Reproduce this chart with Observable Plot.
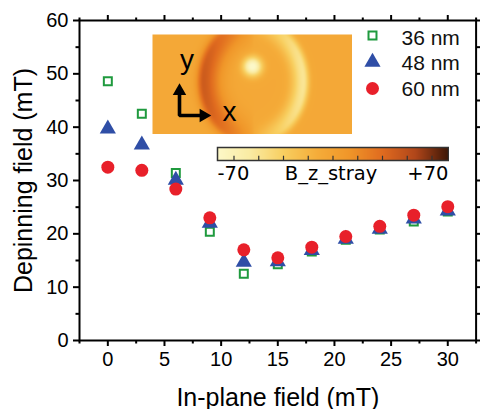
<!DOCTYPE html>
<html><head><meta charset="utf-8">
<script src="https://cdn.jsdelivr.net/npm/d3@7"></script>
<script src="https://cdn.jsdelivr.net/npm/@observablehq/plot@0.6"></script>
<style>
body{margin:0;background:#fff;}
#wrap{position:relative;width:480px;height:409px;overflow:hidden;}
</style></head><body><div id="wrap"></div>
<script>
// ---- data ----
const inPlaneField = [0, 3, 6, 9, 12, 15, 18, 21, 24, 27, 30];
const depin36 = [48.6, 42.5, 31.4, 20.4, 12.5, 14.3, 16.7, 18.9, 20.8, 22.3, 24.2];
const depin48 = [39.7, 36.7, 30.1, 22.0, 14.7, 14.8, 16.9, 19.0, 20.9, 22.8, 24.3];
const depin60 = [32.5, 31.9, 28.4, 23.0, 17.0, 15.5, 17.5, 19.5, 21.4, 23.5, 25.1];
const seriesNames = ["36 nm", "48 nm", "60 nm"];
const xTicks = [0, 5, 10, 15, 20, 25, 30];
const xMinor = [-2.5, 2.5, 7.5, 12.5, 17.5, 22.5, 27.5, 32.5];
const yTicks = [0, 10, 20, 30, 40, 50, 60];
const yMinor = [5, 15, 25, 35, 45, 55];
const colorbarDomain = [-70, 70];
const colorbarTicks = [-60, -45, -30, -15, 0, 15, 30, 45, 60];
const colorbarLabels = ["-70", "B_z_stray", "+70"];

// ---- styles ----
const FONT = "'Liberation Sans', Arial, sans-serif";
const markStyles = [
  {symbol: "square", r: 4.5, stroke: "#1f9a3e", fill: "none", strokeWidth: 2},
  {symbol: "triangle", r: 6, fill: "#2f4ea6", stroke: "none"},
  {symbol: "circle", r: 6.5, fill: "#e8202a", stroke: "none"}
];
const legendDy = [15, 41.5, 68];
const legendTextDy = [17.5, 42.5, 69];
const rampColors = ["#fcf8c8", "#faeba2", "#f8cf60", "#f5ad3a", "#f09629", "#e06b1f", "#b0461a", "#3c1606"];
const colorScale = {type: "linear", domain: colorbarDomain, interpolate: d3.piecewise(d3.interpolateRgb, rampColors), clamp: true};

const series = [depin36, depin48, depin60].map(ys => inPlaneField.map((x, i) => ({x, y: ys[i]})));

const axisCommon = {label: null, strokeWidth: 2, stroke: "black"};
const main = Plot.plot({
  width: 480, height: 409,
  marginLeft: 79, marginRight: 4.4, marginTop: 20, marginBottom: 69,
  x: {domain: [-2.5, 32.5]},
  y: {domain: [0, 60]},
  style: {fontFamily: FONT, color: "black", background: "transparent"},
  marks: [
    Plot.axisX({...axisCommon, ticks: xTicks, tickSize: 6, tickPadding: 5, fontSize: 20}),
    Plot.axisX({...axisCommon, ticks: xMinor, tickSize: 3.5, text: null}),
    Plot.axisX({...axisCommon, anchor: "top", ticks: xTicks, tickSize: 6, text: null}),
    Plot.axisX({...axisCommon, anchor: "top", ticks: xMinor, tickSize: 3.5, text: null}),
    Plot.axisY({...axisCommon, ticks: yTicks, tickSize: 6, tickPadding: 5, fontSize: 20}),
    Plot.axisY({...axisCommon, ticks: yMinor, tickSize: 3.5, text: null}),
    Plot.axisY({...axisCommon, anchor: "right", ticks: yTicks, tickSize: 6, text: null}),
    Plot.axisY({...axisCommon, anchor: "right", ticks: yMinor, tickSize: 3.5, text: null}),
    Plot.frame({stroke: "black", strokeWidth: 2}),
    ...series.map((rows, i) => Plot.dot(rows, {x: "x", y: "y", ...markStyles[i]})),
    ...seriesNames.map((name, i) => Plot.dot([name], {frameAnchor: "top-left", dx: 293, dy: legendDy[i], ...markStyles[i]})),
    ...seriesNames.map((name, i) => Plot.text([name], {text: d => d, frameAnchor: "top-left", dx: 322, dy: legendTextDy[i], textAnchor: "start", lineAnchor: "middle", fontSize: 21, fill: "#111"})),
    Plot.text(["In-plane field (mT)"], {text: d => d, frameAnchor: "bottom", dy: 65, textAnchor: "middle", lineAnchor: "bottom", fontSize: 25}),
    Plot.text(["Depinning field (mT)"], {text: d => d, frameAnchor: "left", dx: -48, rotate: -90, textAnchor: "middle", lineAnchor: "bottom", fontSize: 25})
  ]
});
const wrap = document.getElementById("wrap");
main.style.position = "absolute"; main.style.left = "0px"; main.style.top = "0px";
wrap.appendChild(main);

// ---- inset image (simulated stray-field map) ----
function strayField(u, v) {
  const cx = 101, cy = 47, rx = 50, ry = 58;
  const ex = (u - cx) / rx, ey = (v - cy) / ry;
  const rho = Math.hypot(ex, ey) || 1e-6;
  const c = ex / rho;
  const dist = (rho - 1) * 50;
  let b = -6;
  if (c < 0) {
    const w = dist < 0 ? 12 : 5;
    b += 44 * Math.pow(-c, 0.6) * Math.exp(-dist * dist / (2 * w * w));
  } else {
    const w = dist < 0 ? 8 : 4;
    b -= 40 * Math.pow(c, 0.7) * Math.exp(-dist * dist / (2 * w * w));
  }
  const sd = Math.hypot(u - 100, v - 32);
  b -= 68 * Math.exp(-sd * sd / (2 * 6.5 * 6.5));
  return b;
}
const inset = Plot.plot({
  width: 200, height: 100, margin: 0,
  x: {domain: [0, 200], axis: null},
  y: {domain: [0, 100], reverse: true, axis: null},
  color: colorScale,
  style: {fontFamily: FONT, background: "transparent"},
  marks: [
    Plot.raster({fill: strayField, x1: 0, x2: 200, y1: 0, y2: 100, pixelSize: 1}),
    Plot.line([[27, 57], [27, 81], [53, 81]], {x: d => d[0], y: d => d[1], stroke: "black", strokeWidth: 3.6, strokeLinejoin: "miter", strokeLinecap: "butt"}),
    Plot.dot([[27, 56.5]], {x: d => d[0], y: d => d[1], symbol: "triangle", r: 5, fill: "black"}),
    Plot.dot([[51, 81]], {x: d => d[0], y: d => d[1], symbol: "triangle", r: 5, fill: "black", rotate: 90}),
    Plot.text(["y"], {text: d => d, frameAnchor: "top-left", dx: 27.5, dy: 34, lineAnchor: "bottom", fontSize: 28}),
    Plot.text(["x"], {text: d => d, frameAnchor: "top-left", dx: 70, dy: 86.5, lineAnchor: "bottom", fontSize: 28})
  ]
});
inset.style.position = "absolute"; inset.style.left = "152px"; inset.style.top = "34px";
wrap.appendChild(inset);

// ---- colorbar ----
const cbar = Plot.plot({
  width: 233, height: 42,
  marginLeft: 1, marginRight: 1, marginTop: 1, marginBottom: 28,
  x: {domain: colorbarDomain, axis: null},
  y: {domain: [0, 1], axis: null},
  color: colorScale,
  style: {fontFamily: "'DejaVu Sans', Verdana, sans-serif", background: "transparent", color: "black"},
  marks: [
    Plot.raster({fill: (x, y) => x, x1: -70, x2: 70, y1: 0, y2: 1, pixelSize: 1}),
    Plot.ruleX(colorbarTicks, {y1: 0, y2: 0.33, stroke: "#333", strokeWidth: 1.2}),
    Plot.frame({stroke: "#333", strokeWidth: 1.5}),
    Plot.text([colorbarLabels[0]], {text: d => d, frameAnchor: "bottom-left", dy: 19.5, textAnchor: "start", lineAnchor: "bottom", fontSize: 19.5}),
    Plot.text([colorbarLabels[1]], {text: d => d, frameAnchor: "bottom", dx: -2, dy: 19.5, lineAnchor: "bottom", fontSize: 19.5}),
    Plot.text([colorbarLabels[2]], {text: d => d, frameAnchor: "bottom-right", dy: 19.5, textAnchor: "end", lineAnchor: "bottom", fontSize: 19.5})
  ]
});
cbar.style.position = "absolute"; cbar.style.left = "216px"; cbar.style.top = "146px";
wrap.appendChild(cbar);
</script></body></html>
